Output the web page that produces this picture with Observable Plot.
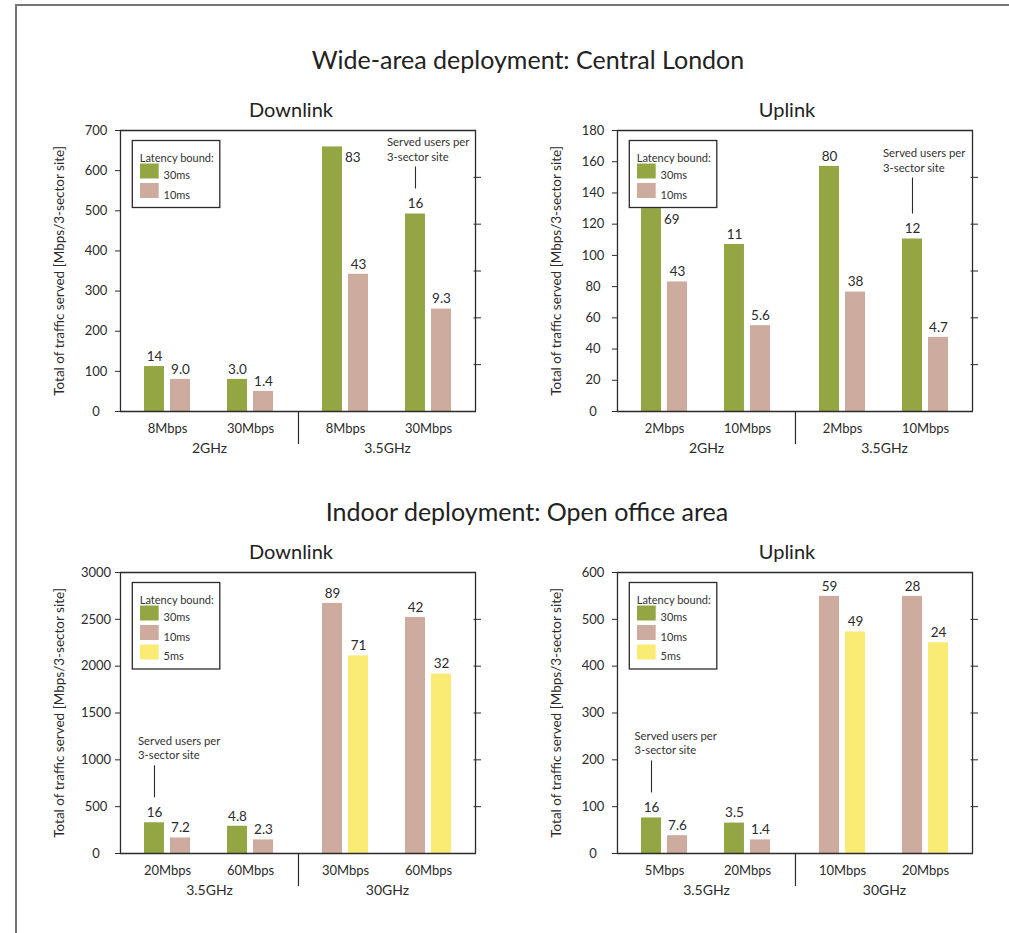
<!DOCTYPE html>
<html>
<head>
<meta charset="utf-8">
<script src="https://cdn.jsdelivr.net/npm/d3@7"></script>
<script src="https://cdn.jsdelivr.net/npm/@observablehq/plot@0.6"></script>
<style>
  body { margin: 0; background: #fff; font-family: Lato, "DejaVu Sans", sans-serif; color: #222; }
  #page { position: relative; width: 1009px; height: 933px; overflow: hidden; background: #fff; }
  #border { position: absolute; left: 15px; top: 4px; right: -5px; bottom: -5px; border-top: 2px solid #757575; border-left: 2px solid #757575; }
  .t { position: absolute; transform: translate(-50%, -50%); white-space: nowrap; line-height: 1; }
  .main { font-size: 25px; }
  .sub { font-size: 20px; }
  .panel { position: absolute; }
</style>
</head>
<body>
<div id="page">
  <div id="border"></div>
  <div class="t main" style="left:528px;top:59px;">Wide-area deployment: Central London</div>
  <div class="t sub" style="left:291px;top:109px;">Downlink</div>
  <div class="t sub" style="left:787px;top:109px;">Uplink</div>
  <div class="t main" style="left:527px;top:511px;">Indoor deployment: Open office area</div>
  <div class="t sub" style="left:291px;top:551px;">Downlink</div>
  <div class="t sub" style="left:787px;top:551px;">Uplink</div>
  <div class="panel" id="p1" style="left:0px;top:120px;"></div>
  <div class="panel" id="p2" style="left:497px;top:120px;"></div>
  <div class="panel" id="p3" style="left:0px;top:562px;"></div>
  <div class="panel" id="p4" style="left:497px;top:562px;"></div>
</div>
<script>
// ---------- shared ----------
const latencies = ["30ms", "10ms", "5ms"];
const latencyColors = ["#94a644", "#cdab9e", "#f9eb74"];
const yTitle = "Total of traffic served [Mbps/3-sector site]";
const noteText = "Served users per\n3-sector site";

// ---------- Wide-area deployment: Downlink ----------
const wideDownFreq = ["2GHz", "2GHz", "3.5GHz", "3.5GHz"];
const wideDownRate = ["8Mbps", "30Mbps", "8Mbps", "30Mbps"];
const wideDown30 = [112, 80, 659, 492];
const wideDown10 = [80, 50, 342, 255];
const wideDownUsers30 = ["14", "3.0", "83", "16"];
const wideDownUsers10 = ["9.0", "1.4", "43", "9.3"];
const wideDownTicks = [0, 100, 200, 300, 400, 500, 600, 700];

// ---------- Wide-area deployment: Uplink ----------
const wideUpFreq = ["2GHz", "2GHz", "3.5GHz", "3.5GHz"];
const wideUpRate = ["2Mbps", "10Mbps", "2Mbps", "10Mbps"];
const wideUp30 = [130, 107, 157, 110.5];
const wideUp10 = [83, 55, 76.5, 47.5];
const wideUpUsers30 = ["69", "11", "80", "12"];
const wideUpUsers10 = ["43", "5.6", "38", "4.7"];
const wideUpTicks = [0, 20, 40, 60, 80, 100, 120, 140, 160, 180];

// ---------- Indoor deployment: Downlink ----------
const indoorDownFreq = ["3.5GHz", "3.5GHz", "30GHz", "30GHz"];
const indoorDownRate = ["20Mbps", "60Mbps", "30Mbps", "60Mbps"];
const indoorDown30 = [328, 291, null, null];
const indoorDown10 = [166, 145, 2670, 2520];
const indoorDown5 = [null, null, 2110, 1915];
const indoorDownUsers30 = ["16", "4.8", null, null];
const indoorDownUsers10 = ["7.2", "2.3", "89", "42"];
const indoorDownUsers5 = [null, null, "71", "32"];
const indoorDownTicks = [0, 500, 1000, 1500, 2000, 2500, 3000];

// ---------- Indoor deployment: Uplink ----------
const indoorUpFreq = ["3.5GHz", "3.5GHz", "30GHz", "30GHz"];
const indoorUpRate = ["5Mbps", "20Mbps", "10Mbps", "20Mbps"];
const indoorUp30 = [76, 65, null, null];
const indoorUp10 = [38, 29, 549, 549];
const indoorUp5 = [null, null, 473, 450];
const indoorUpUsers30 = ["16", "3.5", null, null];
const indoorUpUsers10 = ["7.6", "1.4", "59", "28"];
const indoorUpUsers5 = [null, null, "49", "24"];
const indoorUpTicks = [0, 100, 200, 300, 400, 500, 600];

const panels = [
  { id: "p1", freq: wideDownFreq, rate: wideDownRate,
    values: { "30ms": wideDown30, "10ms": wideDown10 },
    users: { "30ms": wideDownUsers30, "10ms": wideDownUsers10 },
    ticks: wideDownTicks, beside: [[2, "30ms"]], note: { cat: 3, len: 22, textDx: -28.5 } },
  { id: "p2", freq: wideUpFreq, rate: wideUpRate,
    values: { "30ms": wideUp30, "10ms": wideUp10 },
    users: { "30ms": wideUpUsers30, "10ms": wideUpUsers10 },
    ticks: wideUpTicks, beside: [[0, "30ms"]], note: { cat: 3, len: 36, textDx: -29.5 } },
  { id: "p3", freq: indoorDownFreq, rate: indoorDownRate,
    values: { "30ms": indoorDown30, "10ms": indoorDown10, "5ms": indoorDown5 },
    users: { "30ms": indoorDownUsers30, "10ms": indoorDownUsers10, "5ms": indoorDownUsers5 },
    ticks: indoorDownTicks, beside: [], note: { cat: 0, len: 32, textDx: -16.5 } },
  { id: "p4", freq: indoorUpFreq, rate: indoorUpRate,
    values: { "30ms": indoorUp30, "10ms": indoorUp10, "5ms": indoorUp5 },
    users: { "30ms": indoorUpUsers30, "10ms": indoorUpUsers10, "5ms": indoorUpUsers5 },
    ticks: indoorUpTicks, beside: [], note: { cat: 0, len: 32, textDx: -17 } }
];

// ---------- layout constants ----------
const W = 496, H = 346, ML = 120, MR = 20, MT = 10, MB = 55;
const PI = 0.44, PO = 0.28;
const barW = 21;
const ink = "#2b2b2b";
const lineW = 1.3;

function build(p) {
  const groups = Array.from(new Set(p.freq));
  const idx = p.freq.map((f, i) => p.freq.slice(0, i).filter(g => g === f).length);
  const present = latencies.filter(l => p.values[l]);
  const rows = [];
  p.freq.forEach((f, i) => {
    let slot = 0;
    present.forEach(l => {
      const v = p.values[l][i];
      if (v == null) return;
      rows.push({ freq: f, idx: idx[i], cat: i, latency: l, value: v, label: p.users[l][i], slot: slot++ });
    });
  });
  const rateRows = p.freq.map((f, i) => ({ freq: f, idx: idx[i], rate: p.rate[i] }));
  const max = p.ticks[p.ticks.length - 1];

  const facetW = (W - ML - MR) / groups.length;
  const frameH = H - MT - MB;
  const step = facetW / (2 - PI + 2 * PO);
  const bw = step * (1 - PI);
  const edge = PO * step + bw / 2;
  const inset = bw - barW;
  const barOff = bw / 2 - barW / 2;

  const first = groups[0], last = groups[groups.length - 1];
  const lastIdx = d3.max(rateRows.filter(r => r.freq === last), r => r.idx);
  const isBeside = d => p.beside.some(([c, l]) => c === d.cat && l === d.latency);

  // legend geometry (frame-relative)
  const boxL = 12.3, boxT = 10.5, boxW = 87.5, itemStep = 19.5;
  const boxH = 23 + present.length * itemStep + 5;
  const legendRow = [{ freq: first }];

  const gap = 25;
  const noteRow = rows.filter(d => d.cat === p.note.cat && d.slot === 0);

  const rightTicks = d3.range(1, 6).map(i => (max * i) / 6);

  const marks = [
    // bars
    Plot.barY(rows.filter(d => d.slot === 0), { fx: "freq", x: "idx", y: "value", fill: "latency", insetRight: inset }),
    Plot.barY(rows.filter(d => d.slot === 1), { fx: "freq", x: "idx", y: "value", fill: "latency", insetLeft: inset }),
    // frame
    Plot.ruleY([0], { stroke: ink, strokeWidth: lineW }),
    Plot.ruleY([max], { stroke: ink, strokeWidth: lineW }),
    Plot.ruleX([{ freq: first, idx: 0 }], { fx: "freq", x: "idx", dx: -edge, stroke: ink, strokeWidth: lineW }),
    Plot.ruleX([{ freq: last, idx: lastIdx }], { fx: "freq", x: "idx", dx: edge, stroke: ink, strokeWidth: lineW }),
    // separator between frequency groups
    Plot.ruleX(groups.slice(1).map(g => ({ freq: g, idx: 0 })), {
      fx: "freq", x: "idx", y1: () => 0, y2: () => 0, insetBottom: -33, dx: -edge, stroke: ink, strokeWidth: 1.2 }),
    // axes
    Plot.axisY({ anchor: "left", ticks: p.ticks, tickSize: 5, tickPadding: 19.5, textAnchor: "middle",
      tickFormat: d => String(d), label: null, fontSize: 13, stroke: ink, fill: ink }),
    Plot.axisY({ anchor: "right", ticks: rightTicks, tickSize: 7.5, dx: -3.5, tickFormat: () => "",
      label: null, stroke: ink }),
    // value labels
    Plot.text(rows.filter(d => d.slot === 0 && !isBeside(d)), {
      fx: "freq", x: "idx", y: "value", text: "label", dx: -barOff, dy: -10, fontSize: 13.5, fill: ink }),
    Plot.text(rows.filter(d => d.slot === 1 && !isBeside(d)), {
      fx: "freq", x: "idx", y: "value", text: "label", dx: barOff, dy: -10, fontSize: 13.5, fill: ink }),
    Plot.text(rows.filter(d => isBeside(d)), {
      fx: "freq", x: "idx", y: "value", text: "label", textAnchor: "start",
      dx: -barOff + barW / 2 + 2, dy: 11, fontSize: 13.5, fill: ink }),
    // category labels
    Plot.text(rateRows, { fx: "freq", x: "idx", y: () => 0, text: "rate", dy: 17, fontSize: 13, fill: ink }),
    Plot.text(groups.map(g => ({ freq: g })), { fx: "freq", frameAnchor: "bottom", text: "freq", dy: 41, fontSize: 14, fill: ink }),
    // y title
    Plot.text(legendRow, { fx: "freq", frameAnchor: "left", rotate: -90, textAnchor: "middle", lineAnchor: "middle",
      text: () => yTitle, dx: -61, fontSize: 13.5, fill: ink }),
    // annotation
    Plot.ruleX(noteRow, { fx: "freq", x: "idx", y1: "value", y2: "value", dx: -barOff, dy: -gap,
      insetTop: -p.note.len, stroke: ink, strokeWidth: 1.1 }),
    Plot.text(noteRow, { fx: "freq", x: "idx", y: "value", text: () => noteText, textAnchor: "start",
      dx: -barOff + p.note.textDx, dy: -(gap + p.note.len + 18.5), lineHeight: 1.3, fontSize: 11.3, fill: "#333" }),
    // legend box
    Plot.rect(legendRow, { fx: "freq", insetLeft: boxL, insetTop: boxT,
      insetRight: facetW - boxL - boxW, insetBottom: frameH - boxT - boxH,
      fill: "white", stroke: ink, strokeWidth: lineW }),
    Plot.text(legendRow, { fx: "freq", frameAnchor: "top-left", text: () => "Latency bound:", textAnchor: "start",
      dx: boxL + 7, dy: boxT + 13, fontSize: 11, fill: "#333" })
  ];
  present.forEach((l, i) => {
    const top = boxT + 23 + i * itemStep;
    const item = [{ freq: first, latency: l }];
    marks.push(Plot.rect(item, { fx: "freq", fill: "latency",
      insetLeft: boxL + 7.7, insetRight: facetW - (boxL + 7.7 + 18.7),
      insetTop: top, insetBottom: frameH - (top + 15) }));
    marks.push(Plot.text(item, { fx: "freq", frameAnchor: "top-left", text: "latency", textAnchor: "start",
      dx: boxL + 30.7, dy: top + 7.5, fontSize: 11, fill: "#333" }));
  });

  const chart = Plot.plot({
    width: W, height: H,
    marginLeft: ML, marginRight: MR, marginTop: MT, marginBottom: MB,
    style: { fontFamily: "Lato, 'DejaVu Sans', sans-serif", fontSize: "13px", color: ink, background: "transparent", overflow: "visible" },
    fx: { domain: groups, paddingInner: 0, paddingOuter: 0, axis: null },
    x: { type: "band", domain: [0, 1], paddingInner: PI, paddingOuter: PO, axis: null },
    y: { domain: [0, max], label: null },
    color: { domain: latencies, range: latencyColors },
    marks
  });
  document.getElementById(p.id).appendChild(chart);
}

panels.forEach(build);
</script>
</body>
</html>
